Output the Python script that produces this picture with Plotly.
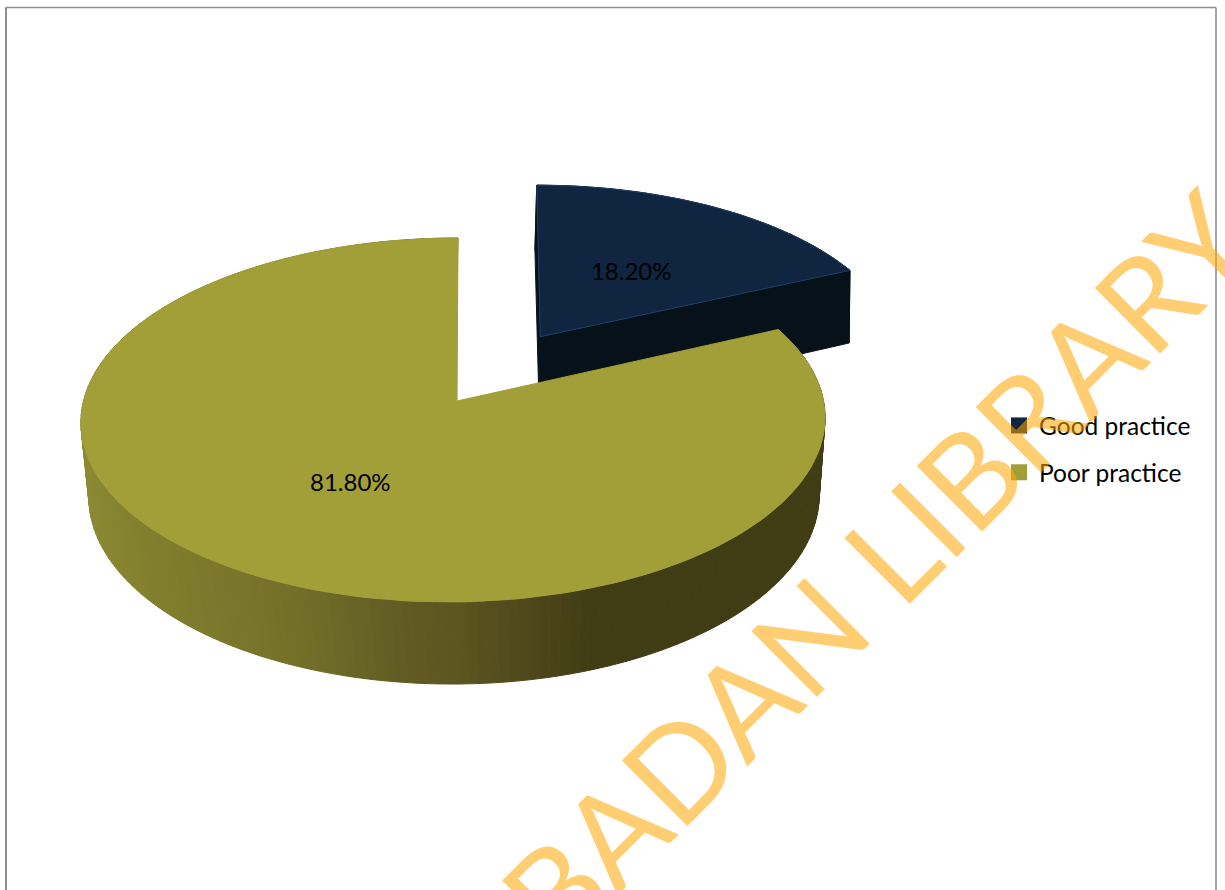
import numpy as np
import plotly.graph_objects as go

# Survey result: share of respondents by practice level
categories = ["Good practice", "Poor practice"]
shares = [18.20, 81.80]
watermark = "IBADAN LIBRARY"

TOP_COLORS = ["#10253F", "#A29F39"]
EDGE_NAVY = "#1F3F66"
CUT_NAVY = "#06111A"
FONT = "Lato"

# Perspective camera for the disc: one projection for the lid, one for the base.
# "sk" leans the view slightly so far points drift to the right.
LID = dict(ax=453.5, ay=401.0, rx=370.0, ry=180.0, k=0.1044, sk=5.0)
BASE = dict(ax=454.2, ay=481.0, rx=364.0, ry=186.8, k=0.08, sk=2.0)
EXPLODE = 0.441
MAIN_HUB_SHIFT = (0.0095, 0.0)
LABEL_DROP = 4.5

# Side wall shading, left to right across the page
SHADE_X = [85, 143, 293, 393, 460, 530, 590, 830]
SHADE_R = [0x8C, 0x82, 0x74, 0x62, 0x5C, 0x4E, 0x40, 0x40]
SHADE_G = [0x8A, 0x7F, 0x70, 0x5D, 0x55, 0x47, 0x3D, 0x3D]
SHADE_B = [0x33, 0x2E, 0x29, 0x23, 0x20, 0x1A, 0x15, 0x15]


def project(cam, u, v):
    w = 1 + cam["k"] * v
    return cam["ax"] + (cam["rx"] * u + cam["sk"] * v) / w, cam["ay"] - cam["ry"] * v / w


def disc_point(theta, radius=1.0, shift=(0.0, 0.0)):
    return shift[0] + radius * np.sin(theta), shift[1] + radius * np.cos(theta)


def wedge(cam, a0, a1, shift=(0.0, 0.0), hub=(0.0, 0.0)):
    t = np.linspace(a0, a1, 160)
    u, v = disc_point(t, 1.0, shift)
    x, y = project(cam, u, v)
    ax, ay = project(cam, shift[0] + hub[0], shift[1] + hub[1])
    return np.r_[ax, x, ax], np.r_[ay, y, ay]


def polygon(x, y, color, line=None, width=1):
    return go.Scatter(
        x=list(x), y=list(y), mode="lines", fill="toself", fillcolor=color,
        line=dict(color=line or color, width=width),
        hoverinfo="skip", showlegend=False,
    )


def wall_strips(a0, a1, shift, color_of):
    edges = np.linspace(a0, a1, int(np.degrees(a1 - a0) / 1.5) + 2)
    out = []
    for t0, t1 in zip(edges[:-1], edges[1:]):
        u, v = disc_point(np.array([t0, t1]), 1.0, shift)
        xt, yt = project(LID, u, v)
        xb, yb = project(BASE, u, v)
        xs = [xt[0], xt[1], xb[1], xb[0], xt[0]]
        ys = [yt[0], yt[1], yb[1], yb[0], yt[0]]
        out.append(polygon(xs, ys, color_of(np.mean(xs))))
    return out


def shade(x):
    r = np.interp(x, SHADE_X, SHADE_R)
    g = np.interp(x, SHADE_X, SHADE_G)
    b = np.interp(x, SHADE_X, SHADE_B)
    return f"rgb({r:.0f},{g:.0f},{b:.0f})"


# Slices run clockwise from twelve o'clock
fractions = np.array(shares) / sum(shares)
split = 2 * np.pi * fractions[0]
mid_good = split / 2
mid_poor = split + np.pi * fractions[1]
shift_good = disc_point(mid_good, EXPLODE)

fig = go.Figure()

# Pulled-out slice: rim, the two cut faces, then the lid
for tr in wall_strips(0, split, shift_good, lambda _: CUT_NAVY):
    fig.add_trace(tr)
for angle in (0.0, split):
    u_pts, v_pts = disc_point(np.array([angle]), 1.0, shift_good)
    xt, yt = project(LID, np.r_[shift_good[0], u_pts], np.r_[shift_good[1], v_pts])
    xb, yb = project(BASE, np.r_[shift_good[0], u_pts], np.r_[shift_good[1], v_pts])
    fig.add_trace(polygon([xt[0], xt[1], xb[1], xb[0], xt[0]],
                          [yt[0], yt[1], yb[1], yb[0], yt[0]], CUT_NAVY))
x_lid, y_lid = wedge(LID, 0, split, shift_good)
fig.add_trace(polygon(x_lid, y_lid, TOP_COLORS[0], line=EDGE_NAVY, width=1))

# Main slice: rim shaded across the page, then the lid on top
for tr in wall_strips(split, 2 * np.pi, (0.0, 0.0), shade):
    fig.add_trace(tr)
x_lid, y_lid = wedge(LID, split, 2 * np.pi, hub=MAIN_HUB_SHIFT)
fig.add_trace(polygon(x_lid, y_lid, TOP_COLORS[1]))

# Percentage labels sit halfway along each slice's centre line
lab_u0, lab_v0 = disc_point(mid_good, 0.5, shift_good)
lab_u1, lab_v1 = disc_point(mid_poor, 0.5, MAIN_HUB_SHIFT)
lab_x, lab_y = project(LID, np.array([lab_u0, lab_u1]), np.array([lab_v0, lab_v1]))
fig.add_trace(go.Scatter(
    x=list(lab_x), y=list(lab_y + LABEL_DROP), mode="text",
    text=[f"{s:.2f}%" for s in shares],
    textfont=dict(family=FONT, size=24, color="#000000"),
    hoverinfo="skip", showlegend=False,
))

# Legend keys
for name, color in zip(categories, TOP_COLORS):
    fig.add_trace(go.Scatter(
        x=[None], y=[None], mode="markers", name=name, legendgroup=name,
        marker=dict(symbol="square", size=16, color=color),
    ))

frame = dict(type="line", xref="x", yref="y", layer="below")
fig.update_layout(
    width=1225, height=890,
    margin=dict(l=0, r=0, t=0, b=0),
    paper_bgcolor="#FFFFFF", plot_bgcolor="#FFFFFF",
    xaxis=dict(range=[0, 1225], visible=False, fixedrange=True),
    yaxis=dict(range=[890, 0], visible=False, fixedrange=True),
    legend=dict(
        x=999 / 1225, y=1 - 403 / 890, xanchor="left", yanchor="top",
        font=dict(family=FONT, size=24.5, color="#000000"),
        itemsizing="trace", tracegroupgap=12, bgcolor="rgba(0,0,0,0)",
    ),
    shapes=[
        dict(frame, x0=6, x1=6, y0=7.5, y1=890, line=dict(color="#8E8E8E", width=2)),
        dict(frame, x0=6, x1=1216, y0=7.5, y1=7.5, line=dict(color="#8E8E8E", width=1.5)),
        dict(frame, x0=1216, x1=1216, y0=7.5, y1=890, line=dict(color="#A6A6A6", width=2)),
    ],
    annotations=[dict(
        text=watermark, x=862.5, y=579.5, xref="x", yref="y", showarrow=False,
        textangle=-45, xanchor="center", yanchor="middle",
        font=dict(family=FONT, size=129, color="#FFA500"), opacity=0.55,
    )],
)

fig.write_html("out.html")
